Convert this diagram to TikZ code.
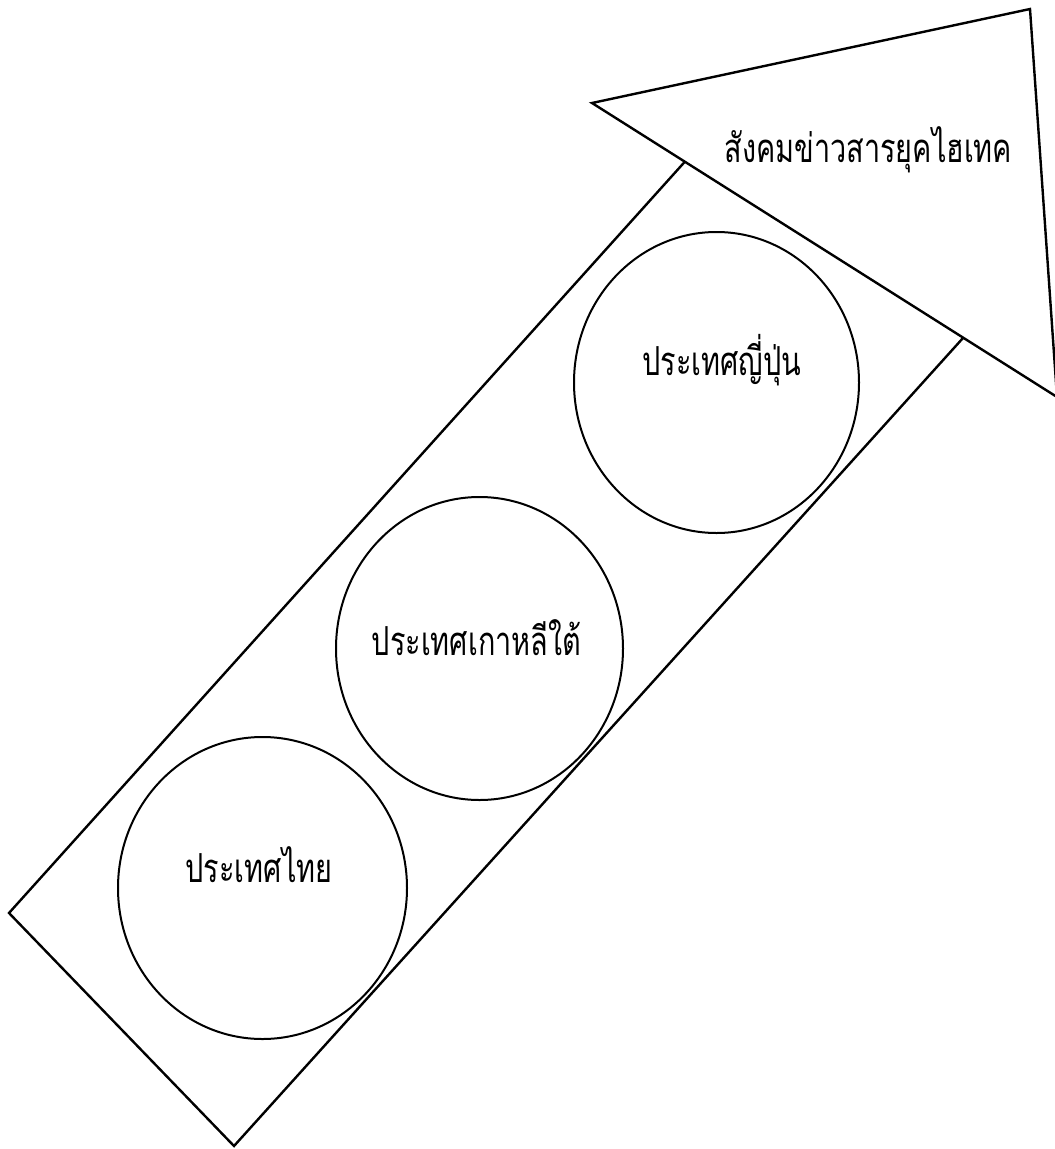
\documentclass[tikz,border=0pt]{standalone}
\usepackage{fontspec}
\newfontfamily\thaifont[Script=Thai,FakeStretch=0.72]{Loma}
\usetikzlibrary{shapes.geometric}
\tikzset{
  outline/.style={draw=black, line width=2.4pt, line join=miter},
  country/.style={draw=black, line width=2pt, ellipse, inner sep=0pt, fill=none},
  thaitext/.style={font=\thaifont\fontsize{40}{48}\selectfont, anchor=base, inner sep=0pt}
}
\begin{document}
\begin{tikzpicture}[x=1pt,y=-1pt]
\useasboundingbox (0,0) rectangle (1055,1149);
\fill[white] (0,0) rectangle (1055,1149);
\begin{scope}
\clip (0,0) rectangle (1055,1149);
% arrow head (triangle)
\coordinate (tl) at (592,103);
\coordinate (tt) at (1030,9);
\coordinate (tb) at (1057,397);
% arrow body (rotated rectangle)
\coordinate (rl) at (9,913);
\coordinate (rb) at (234,1146);
\coordinate (rr) at (963,338);
\coordinate (rtz) at (680,167);
\coordinate (rt) at (intersection of tl--tb and rl--rtz);
\draw[outline] (rt) -- (rl) -- (rb) -- (rr);
\draw[outline] (tl) -- (tt) -- (tb) -- cycle;
\end{scope}
% circles
\node[country, minimum width=289pt, minimum height=302pt] (c1) at (262.5,888) {};
\node[country, minimum width=287pt, minimum height=303pt] (c2) at (479.5,648.5) {};
\node[country, minimum width=285pt, minimum height=301pt] (c3) at (716.5,382.5) {};
% texts
\node[thaitext] (t1) at (259,882) {ประเทศไทย};
\node[thaitext] (t2) at (476.5,655) {ประเทศเกาหลีใต้};
\node[thaitext] (t3) at (722,375) {ประเทศญี่ปุ่น};
\node[thaitext] (t4) at (868.5,162) {สังคมข่าวสารยุคไฮเทค};
\end{tikzpicture}
\end{document}
